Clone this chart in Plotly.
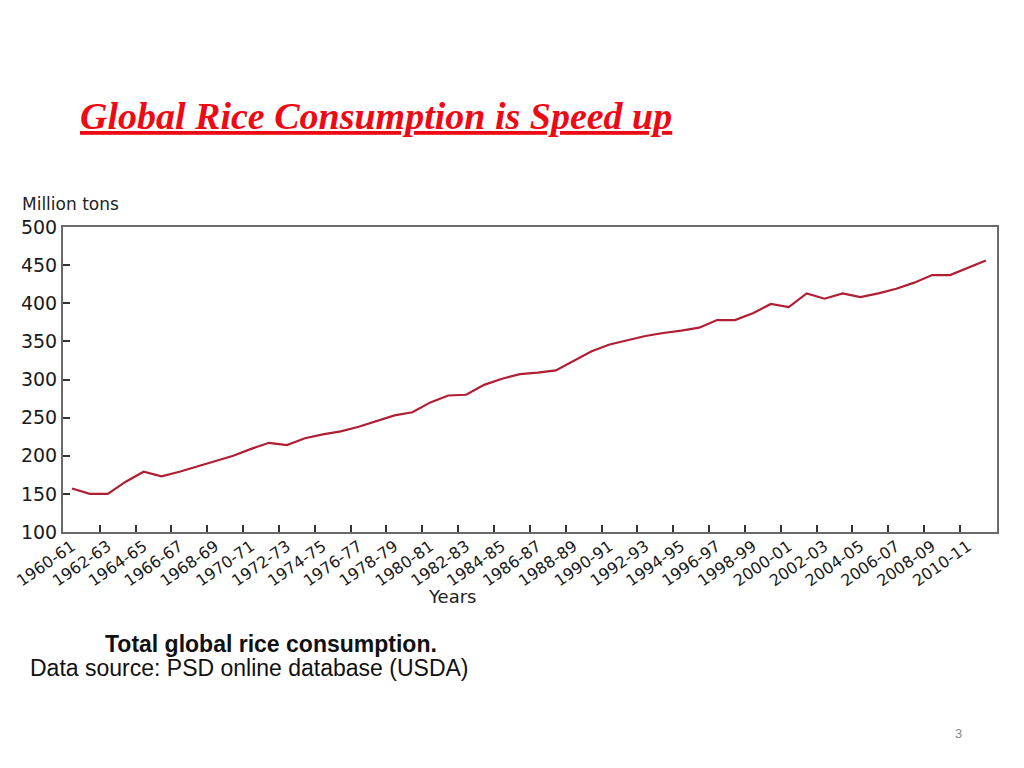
import plotly.graph_objects as go

# ---- data ----
years = list(range(1960, 2012))
consumption = [157, 150, 150, 166, 179, 173, 179, 186, 192, 200,
               209, 217, 214, 223, 228, 232, 238, 245, 253, 257,
               270, 279, 280, 293, 301, 307, 309, 312, 325, 337,
               346, 352, 357, 361, 364, 368, 378, 378, 387, 399,
               395, 413, 406, 413, 408, 413, 419, 427, 437, 437,
               447, 456]
label_years = list(range(1960, 2012, 2))
tick_labels = ["1960-61", "1962-63", "1964-65", "1966-67", "1968-69", "1970-71",
               "1972-73", "1974-75", "1976-77", "1978-79", "1980-81", "1982-83",
               "1984-85", "1986-87", "1988-89", "1990-91", "1992-93", "1994-95",
               "1996-97", "1998-99", "2000-01", "2002-03", "2004-05", "2006-07",
               "2008-09", "2010-11"]
y_ticks = [100, 150, 200, 250, 300, 350, 400, 450, 500]

# ---- layout geometry (target page pixels; page body adds an 8px offset) ----
W, H = 1024, 768
OFF = 8
L, R, T, B = 63, 997, 227, 532


def px(x):
    return (x - L) / (R - L)


def py(y):
    return (B - y) / (B - T)


tick_shift = 0.45

fig = go.Figure()
fig.add_trace(go.Scatter(
    x=years, y=consumption, mode="lines",
    line=dict(color="#b01e33", width=2.2),
    hoverinfo="skip", showlegend=False, xaxis="x", yaxis="y"))
fig.add_trace(go.Scatter(
    x=[years[0], years[-1]], y=[None, None], mode="lines",
    hoverinfo="skip", showlegend=False, xaxis="x2", yaxis="y"))

fig.update_layout(
    width=W, height=H, autosize=False,
    paper_bgcolor="white", plot_bgcolor="white",
    margin=dict(l=L - OFF, r=W - R + OFF, t=T - OFF, b=H - B + OFF, pad=0),
    xaxis=dict(
        range=[1959.5, 2011.62], tickmode="array", automargin=False,
        tickvals=label_years, ticktext=tick_labels, tickangle=-35,
        ticks="", showgrid=False, zeroline=False, ticklabeloverflow="allow",
        ticklabelstandoff=-3,
        showline=True, linecolor="#6a6a6a", linewidth=2, mirror=True,
        tickfont=dict(family="DejaVu Sans", size=16, color="#1a1a1a")),
    xaxis2=dict(
        overlaying="x", matches="x", side="bottom", automargin=False,
        tickmode="array", tickvals=[v - tick_shift for v in label_years],
        showticklabels=False, ticks="inside", ticklen=7, tickwidth=2,
        tickcolor="#333", showgrid=False, zeroline=False, showline=False),
    yaxis=dict(
        range=[100, 500], tickmode="array", tickvals=y_ticks, automargin=False,
        ticks="inside", ticklen=7, tickwidth=2, tickcolor="#333",
        showgrid=False, zeroline=False,
        showline=True, linecolor="#6a6a6a", linewidth=2, mirror=True,
        tickfont=dict(family="DejaVu Sans", size=19, color="#1a1a1a")),
)

ann = [
    dict(text="<u><b><i>Global Rice Consumption is Speed up</i></b></u>",
         x=px(78), y=py(116), xanchor="left", yanchor="middle",
         font=dict(family="Liberation Serif", size=38, color="#ee0a14")),
    dict(text="Million tons", x=px(20), y=py(204), xanchor="left", yanchor="middle",
         font=dict(family="DejaVu Sans", size=17, color="#222")),
    dict(text="Years", x=px(452), y=py(596), xanchor="center", yanchor="middle",
         font=dict(family="DejaVu Sans", size=18, color="#222")),
    dict(text="<b>Total global rice consumption.</b>", x=px(103), y=py(644),
         xanchor="left", yanchor="middle",
         font=dict(family="Liberation Sans", size=23, color="#111")),
    dict(text="Data source: PSD online database (USDA)", x=px(28), y=py(668),
         xanchor="left", yanchor="middle",
         font=dict(family="Liberation Sans", size=23, color="#111")),
    dict(text="3", x=px(958), y=py(733), xanchor="center", yanchor="middle",
         font=dict(family="Liberation Sans", size=13, color="#888")),
]
for a in ann:
    a.update(xref="paper", yref="paper", showarrow=False)
fig.update_layout(annotations=ann)

fig.write_html("out.html")
